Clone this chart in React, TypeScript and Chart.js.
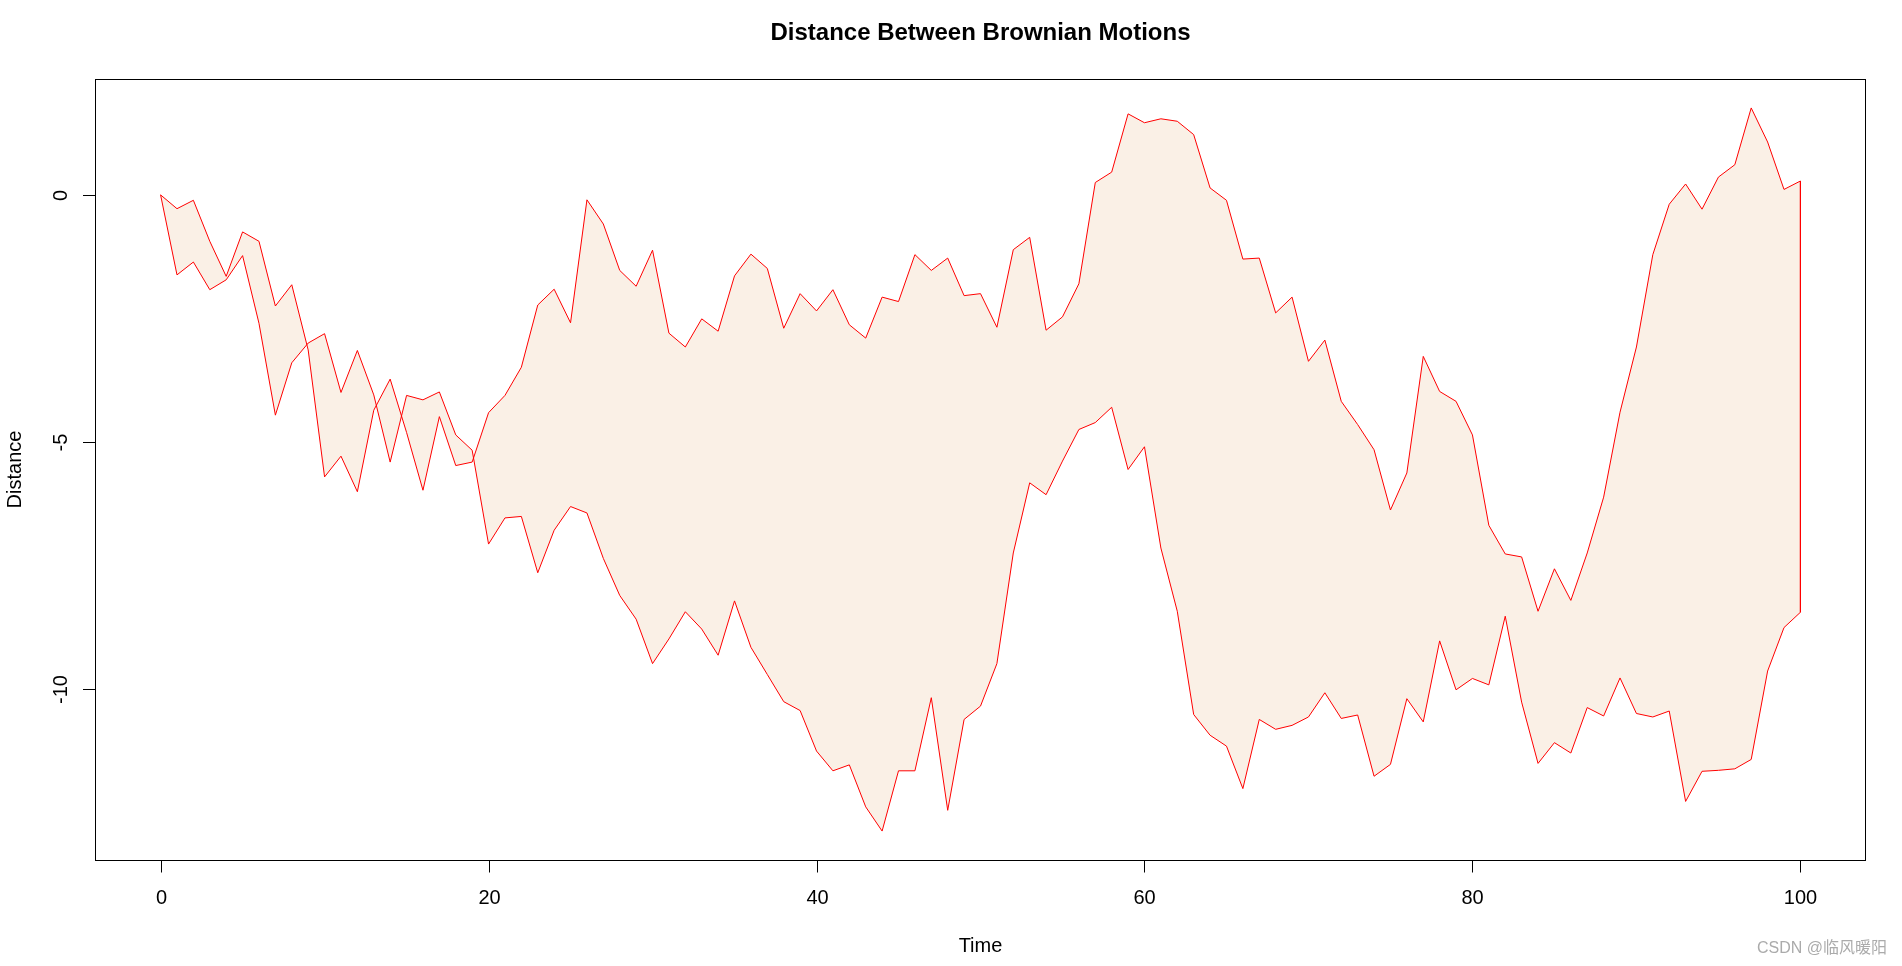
import React, { useEffect, useRef } from "react";
import { Chart, registerables } from "chart.js";

Chart.register(...registerables);

const TITLE = "Distance Between Brownian Motions";
const X_LABEL = "Time";
const Y_LABEL = "Distance";
const WATERMARK = "CSDN @临风暖阳";

// time steps 0..100
const time: number[] = Array.from({ length: 101 }, (_, i) => i);

// first Brownian path (upper boundary for most of the plot)
const motionA: number[] = [
  0, -0.28, -0.11, -0.94, -1.65, -0.75, -0.94, -2.25, -1.82, -3.14,
  -5.71, -5.29, -6.01, -4.36, -3.73, -4.81, -5.98, -4.49, -5.48, -5.41,
  -4.41, -4.06, -3.49, -2.23, -1.91, -2.59, -0.1, -0.59, -1.53, -1.85,
  -1.12, -2.8, -3.08, -2.51, -2.76, -1.64, -1.2, -1.49, -2.7, -2.0,
  -2.35, -1.92, -2.63, -2.9, -2.07, -2.16, -1.21, -1.53, -1.28, -2.04,
  -2.0, -2.68, -1.11, -0.86, -2.74, -2.47, -1.8, 0.25, 0.46, 1.64,
  1.46, 1.54, 1.49, 1.22, 0.14, -0.11, -1.3, -1.28, -2.39, -2.07,
  -3.37, -2.94, -4.18, -4.65, -5.16, -6.38, -5.63, -3.27, -3.98, -4.18,
  -4.86, -6.69, -7.27, -7.33, -8.43, -7.57, -8.21, -7.25, -6.12, -4.4,
  -3.08, -1.21, -0.19, 0.22, -0.29, 0.36, 0.61, 1.76, 1.07, 0.11,
  0.28,
];

// second Brownian path (lower boundary for most of the plot)
const motionB: number[] = [
  0, -1.62, -1.36, -1.92, -1.72, -1.23, -2.6, -4.46, -3.4, -3.0,
  -2.81, -4.0, -3.15, -4.05, -5.41, -4.06, -4.15, -3.99, -4.86, -5.17,
  -7.07, -6.54, -6.51, -7.65, -6.79, -6.31, -6.44, -7.36, -8.11, -8.59,
  -9.49, -8.99, -8.44, -8.79, -9.32, -8.22, -9.16, -9.71, -10.26, -10.44,
  -11.26, -11.66, -11.54, -12.39, -12.88, -11.66, -11.66, -10.18, -12.46, -10.62,
  -10.35, -9.49, -7.25, -5.83, -6.07, -5.39, -4.75, -4.61, -4.3, -5.56,
  -5.1, -7.15, -8.43, -10.52, -10.94, -11.16, -12.02, -10.62, -10.82, -10.74,
  -10.57, -10.08, -10.6, -10.53, -11.77, -11.53, -10.2, -10.67, -9.03, -10.02,
  -9.79, -9.92, -8.53, -10.27, -11.51, -11.09, -11.3, -10.38, -10.55, -9.78,
  -10.5, -10.57, -10.45, -12.28, -11.67, -11.65, -11.62, -11.43, -9.64, -8.76,
  -8.45,
];

const xTicks: number[] = [0, 20, 40, 60, 80, 100];
const xTickLabels: string[] = ["0", "20", "40", "60", "80", "100"];
const yTicks: number[] = [-10, -5, 0];
const yTickLabels: string[] = ["-10", "-5", "0"];

const FONT = '"Liberation Sans", Arial, Helvetica, sans-serif';
const LINE_COLOR = "#FF0000";
const FILL_COLOR = "#FAF0E6";

export default function App() {
  const ref = useRef<HTMLCanvasElement>(null);

  useEffect(() => {
    document.body.style.margin = "0";
    document.body.style.overflow = "hidden";
    const canvas = ref.current;
    if (!canvas) return;

    const all = motionA.concat(motionB);
    const yMin = Math.min(...all);
    const yMax = Math.max(...all);
    const yPad = (yMax - yMin) * 0.04;
    const xMin = Math.min(...time);
    const xMax = Math.max(...time);
    const xPad = (xMax - xMin) * 0.04;
    const last = time.length - 1;

    const rAxes = {
      id: "rAxes",
      afterDraw(chart: any) {
        const { ctx, chartArea: a, scales } = chart;
        const xs = scales.x;
        const ys = scales.y;
        ctx.save();
        ctx.strokeStyle = "#000";
        ctx.lineWidth = 1;
        // box
        ctx.strokeRect(a.left + 0.5, a.top + 0.5, a.right - a.left - 1, a.bottom - a.top);
        // x axis ticks
        ctx.fillStyle = "#000";
        ctx.font = `20px ${FONT}`;
        ctx.textAlign = "center";
        ctx.textBaseline = "alphabetic";
        xTicks.forEach((t, i) => {
          const px = Math.round(xs.getPixelForValue(t)) + 0.5;
          ctx.beginPath();
          ctx.moveTo(px, a.bottom + 0.5);
          ctx.lineTo(px, a.bottom + 12.5);
          ctx.stroke();
          ctx.fillText(xTickLabels[i], px, a.bottom + 44);
        });
        // y axis ticks
        yTicks.forEach((v, i) => {
          const py = Math.round(ys.getPixelForValue(v)) + 0.5;
          ctx.beginPath();
          ctx.moveTo(a.left + 0.5, py);
          ctx.lineTo(a.left - 12, py);
          ctx.stroke();
          ctx.save();
          ctx.translate(a.left - 28.5, py);
          ctx.rotate(-Math.PI / 2);
          ctx.fillText(yTickLabels[i], 0, 0);
          ctx.restore();
        });
        const cx = (a.left + a.right) / 2;
        const cy = (a.top + a.bottom) / 2;
        // title
        ctx.font = `bold 24px ${FONT}`;
        ctx.fillText(TITLE, cx, 40);
        // axis titles
        ctx.font = `20px ${FONT}`;
        ctx.fillText(X_LABEL, cx, 952);
        ctx.save();
        ctx.translate(20.5, cy);
        ctx.rotate(-Math.PI / 2);
        ctx.fillText(Y_LABEL, 0, 0);
        ctx.restore();
        // watermark
        ctx.font = `16px ${FONT}, "Noto Sans CJK SC"`;
        ctx.fillStyle = "#ababab";
        ctx.textAlign = "right";
        ctx.fillText(WATERMARK, 1887, 953);
        ctx.restore();
      },
    };

    const chart = new Chart(canvas, {
      type: "line",
      data: {
        datasets: [
          {
            label: "A",
            data: time.map((t, i) => ({ x: t, y: motionA[i] })),
            borderColor: LINE_COLOR,
            borderWidth: 1,
            pointRadius: 0,
            tension: 0,
            fill: false,
          },
          {
            label: "B",
            data: time.map((t, i) => ({ x: t, y: motionB[i] })),
            borderColor: LINE_COLOR,
            backgroundColor: FILL_COLOR,
            borderWidth: 1,
            pointRadius: 0,
            tension: 0,
            fill: { target: 0 },
          },
          {
            label: "end",
            data: [
              { x: time[last], y: motionA[last] },
              { x: time[last], y: motionB[last] },
            ],
            borderColor: LINE_COLOR,
            borderWidth: 1,
            pointRadius: 0,
            fill: false,
          },
        ],
      },
      options: {
        responsive: false,
        animation: false,
        devicePixelRatio: 1,
        layout: { padding: { left: 95, top: 79, right: 36, bottom: 106 } },
        scales: {
          x: { type: "linear", display: false, min: xMin - xPad, max: xMax + xPad },
          y: { type: "linear", display: false, min: yMin - yPad, max: yMax + yPad },
        },
        plugins: {
          legend: { display: false },
          title: { display: false },
          tooltip: { enabled: false },
          filler: { drawTime: "beforeDatasetsDraw" },
        },
      },
      plugins: [rAxes],
    } as any);

    return () => chart.destroy();
  }, []);

  return (
    <div style={{ width: 1902, height: 966, background: "#fff" }}>
      <canvas ref={ref} width={1902} height={966} style={{ display: "block" }} />
    </div>
  );
}
